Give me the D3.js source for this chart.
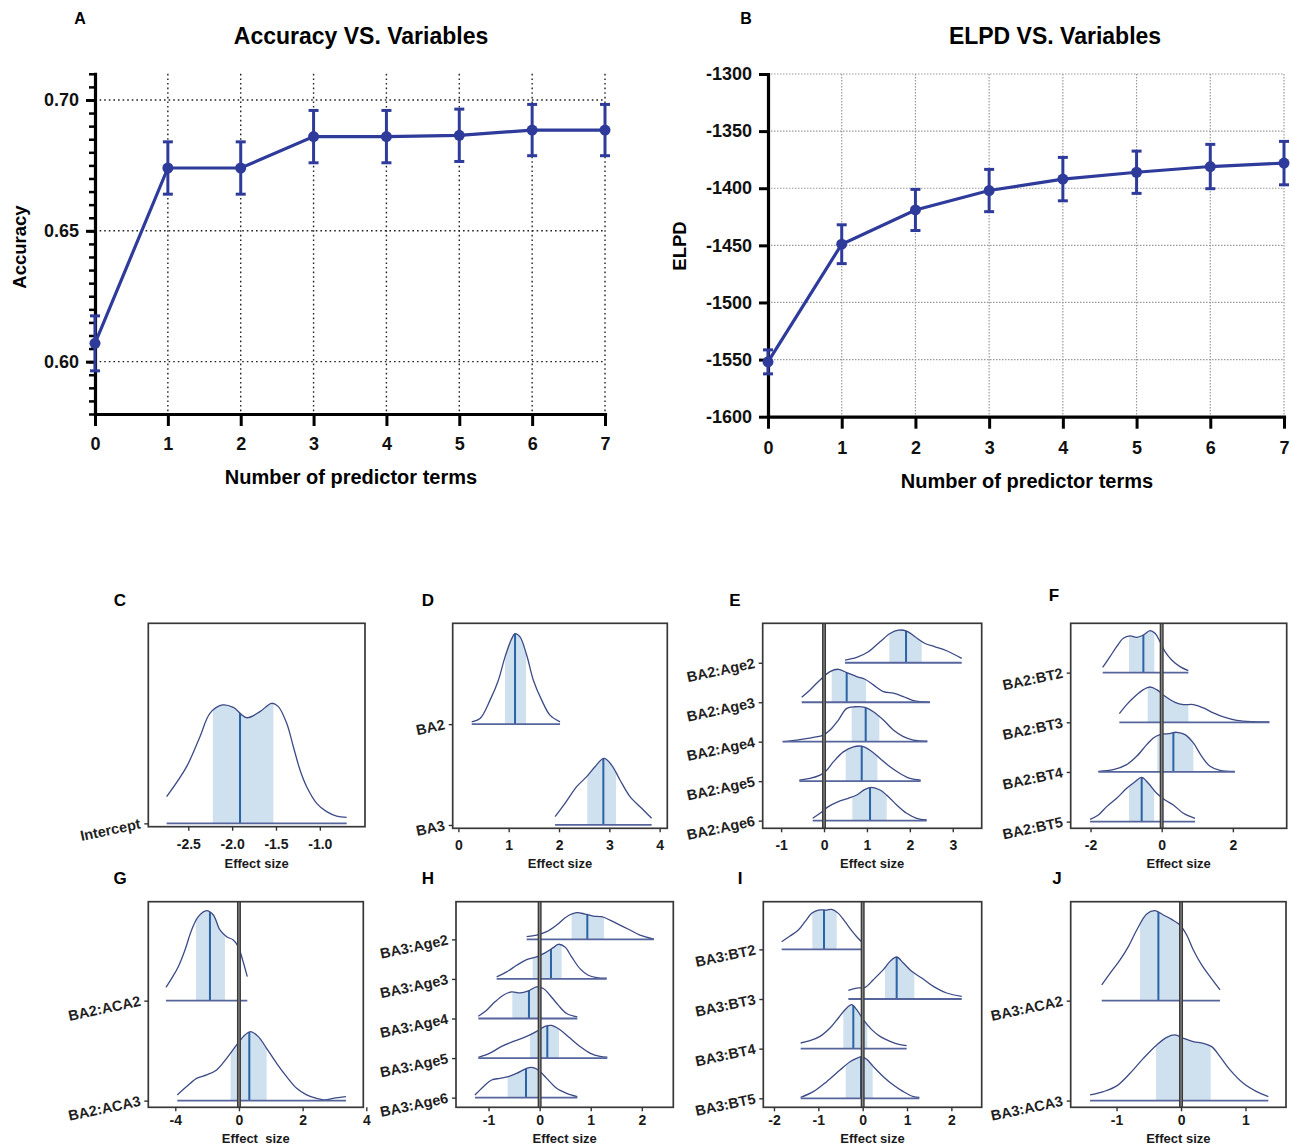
<!DOCTYPE html>
<html>
<head>
<meta charset="utf-8">
<script src="https://cdn.jsdelivr.net/npm/d3@7"></script>
<style>
  body { margin: 0; background: #fff; }
  text { font-family: "Liberation Sans", Arial, sans-serif; }
</style>
</head>
<body>
<script>
// ---------- data: top panels ----------
var nTerms = [0, 1, 2, 3, 4, 5, 6, 7]
var accMean = [0.607, 0.674, 0.674, 0.686, 0.686, 0.6865, 0.6885, 0.6885]
var accErr = [0.0105, 0.010, 0.010, 0.010, 0.010, 0.010, 0.0098, 0.0098]
var accTicks = [0.60, 0.65, 0.70]
var elpdMean = [-1552, -1449, -1419, -1402, -1392, -1386, -1381, -1378]
var elpdErr = [10.5, 17, 18, 18.5, 19, 18.5, 19.4, 19]
var elpdTicks = [-1600, -1550, -1500, -1450, -1400, -1350, -1300]

// ---------- data: posterior areas (x = effect size, h = density height in row units) ----------
var cParams = ["Intercept"]
var cDensity = [
  [[-2.747,0.223],[-2.519,0.475],[-2.367,0.726],[-2.253,0.922],[-2.112,0.992],[-1.987,0.972],[-1.835,0.885],[-1.683,0.936],[-1.549,1.006],[-1.473,0.978],[-1.378,0.838],[-1.302,0.642],[-1.226,0.447],[-1.150,0.307],[-1.036,0.168],[-0.922,0.098],[-0.808,0.061],[-0.694,0.050]]
]
var cInterval = [[-2.22, -1.53]]
var cMedian = [-1.91]
var cTicks = [-2.5, -2, -1.5, -1]
var cTickLabels = ["-2.5", "-2.0", "-1.5", "-1.0"]

var dParams = ["BA2", "BA3"]
var dDensity = [
  [[0.265,0.023],[0.430,0.056],[0.629,0.238],[0.795,0.436],[0.927,0.667],[1.060,0.848],[1.126,0.898],[1.225,0.865],[1.358,0.683],[1.490,0.436],[1.656,0.238],[1.821,0.089],[2.020,0.023]],
  [[1.921,0.083],[2.119,0.215],[2.351,0.380],[2.550,0.479],[2.715,0.578],[2.894,0.660],[3.046,0.594],[3.212,0.446],[3.411,0.281],[3.642,0.165],[3.841,0.066]]
]
var dInterval = [[0.927, 1.344], [2.563, 3.132]]
var dMedian = [1.126, 2.881]
var dTicks = [0, 1, 2, 3, 4]
var dTickLabels = ["0", "1", "2", "3", "4"]

var eParams = ["BA2:Age2", "BA2:Age3", "BA2:Age4", "BA2:Age5", "BA2:Age6"]
var eDensity = [
  [[0.489,0.068],[0.761,0.135],[1.033,0.278],[1.305,0.532],[1.538,0.743],[1.732,0.827],[1.926,0.802],[2.120,0.658],[2.353,0.489],[2.586,0.405],[2.858,0.304],[3.208,0.110]],
  [[-0.520,0.127],[-0.326,0.312],[-0.093,0.565],[0.140,0.776],[0.334,0.835],[0.528,0.751],[0.761,0.650],[0.955,0.582],[1.150,0.439],[1.383,0.270],[1.616,0.228],[1.849,0.143],[2.082,0.042],[2.470,0.0]],
  [[-0.963,0.0],[-0.637,0.042],[-0.249,0.110],[-0.016,0.169],[0.140,0.295],[0.334,0.549],[0.528,0.844],[0.722,0.886],[0.955,0.869],[1.150,0.759],[1.383,0.549],[1.616,0.295],[1.849,0.127],[2.082,0.042],[2.408,0.017]],
  [[-0.575,0.025],[-0.326,0.068],[-0.093,0.152],[0.062,0.278],[0.217,0.489],[0.450,0.743],[0.683,0.869],[0.878,0.886],[1.072,0.785],[1.305,0.574],[1.538,0.363],[1.771,0.194],[2.004,0.068],[2.252,0.025]],
  [[-0.264,0.059],[-0.093,0.186],[0.101,0.354],[0.334,0.481],[0.567,0.565],[0.761,0.650],[0.955,0.793],[1.111,0.844],[1.305,0.776],[1.499,0.608],[1.693,0.397],[1.926,0.186],[2.159,0.059],[2.392,0.017]]
]
var eInterval = [[1.522, 2.276], [0.179, 0.979], [0.645, 1.289], [0.505, 1.243], [0.660, 1.460]]
var eMedian = [1.911, 0.528, 0.971, 0.878, 1.072]
var eTicks = [-1, 0, 1, 2, 3]
var eTickLabels = ["-1", "0", "1", "2", "3"]

var fParams = ["BA2:BT2", "BA2:BT3", "BA2:BT4", "BA2:BT5"]
var fDensity = [
  [[-1.658,0.107],[-1.452,0.322],[-1.265,0.523],[-1.077,0.691],[-0.890,0.738],[-0.703,0.711],[-0.515,0.758],[-0.328,0.846],[-0.187,0.792],[-0.047,0.624],[0.094,0.423],[0.281,0.255],[0.515,0.121],[0.749,0.040]],
  [[-1.190,0.174],[-0.984,0.356],[-0.749,0.523],[-0.515,0.658],[-0.328,0.711],[-0.141,0.658],[0.094,0.523],[0.375,0.403],[0.609,0.356],[0.890,0.356],[1.171,0.289],[1.452,0.188],[1.733,0.107],[2.108,0.040],[2.576,0.013],[3.026,0.007]],
  [[-1.780,0.013],[-1.358,0.047],[-0.984,0.148],[-0.703,0.315],[-0.422,0.550],[-0.234,0.685],[-0.047,0.752],[0.187,0.772],[0.422,0.799],[0.656,0.752],[0.890,0.584],[1.124,0.315],[1.358,0.114],[1.639,0.034],[2.061,0.013]],
  [[-2.014,0.047],[-1.780,0.134],[-1.546,0.302],[-1.265,0.470],[-0.984,0.671],[-0.749,0.805],[-0.562,0.893],[-0.375,0.772],[-0.141,0.570],[0.094,0.436],[0.328,0.336],[0.609,0.168],[0.937,0.067]]
]
var fInterval = [[-0.918, -0.206], [-0.393, 0.749], [-0.122, 0.890], [-0.918, -0.215]]
var fMedian = [-0.515, 0.0, 0.328, -0.562]
var fTicks = [-2, 0, 2]
var fTickLabels = ["-2", "0", "2"]

var gParams = ["BA2:ACA2", "BA2:ACA3"]
var gDensity = [
  [[-2.293,0.133],[-2.115,0.223],[-1.906,0.340],[-1.696,0.507],[-1.487,0.707],[-1.277,0.840],[-1.016,0.900],[-0.806,0.857],[-0.597,0.707],[-0.387,0.640],[-0.178,0.607],[-0.021,0.540],[0.115,0.407],[0.262,0.240]],
  [[-1.937,0.057],[-1.644,0.140],[-1.330,0.223],[-1.016,0.257],[-0.702,0.307],[-0.387,0.423],[-0.073,0.557],[0.188,0.657],[0.366,0.690],[0.607,0.640],[0.869,0.523],[1.183,0.373],[1.497,0.240],[1.812,0.123],[2.126,0.057],[2.440,0.023],[2.702,0.007],[2.963,0.023],[3.361,0.040]]
]
var gInterval = [[-1.351, -0.440], [-0.262, 0.869]]
var gMedian = [-0.911, 0.325]
var gTicks = [-2, 0, 2, 4]
var gTickLabels = ["-4", "0", "2", "4"]

var hParams = ["BA3:Age2", "BA3:Age3", "BA3:Age4", "BA3:Age5", "BA3:Age6"]
var hDensity = [
  [[-0.254,0.067],[-0.059,0.109],[0.137,0.194],[0.333,0.362],[0.528,0.573],[0.724,0.674],[0.887,0.640],[1.050,0.589],[1.213,0.573],[1.376,0.488],[1.572,0.362],[1.768,0.236],[1.963,0.109],[2.237,0.008]],
  [[-0.841,0.051],[-0.646,0.177],[-0.450,0.345],[-0.254,0.488],[-0.059,0.556],[0.104,0.657],[0.267,0.792],[0.365,0.876],[0.496,0.808],[0.626,0.556],[0.789,0.261],[0.952,0.093],[1.115,0.034],[1.311,0.017]],
  [[-1.200,0.059],[-1.037,0.211],[-0.874,0.421],[-0.711,0.589],[-0.548,0.674],[-0.385,0.648],[-0.222,0.699],[-0.059,0.800],[0.072,0.758],[0.202,0.589],[0.365,0.337],[0.528,0.126],[0.737,0.042]],
  [[-1.200,0.017],[-0.972,0.126],[-0.744,0.295],[-0.515,0.421],[-0.254,0.547],[-0.059,0.674],[0.104,0.800],[0.235,0.825],[0.398,0.716],[0.594,0.505],[0.789,0.295],[0.985,0.126],[1.181,0.042],[1.324,0.025]],
  [[-1.266,0.067],[-1.102,0.278],[-0.939,0.446],[-0.776,0.488],[-0.613,0.531],[-0.450,0.615],[-0.254,0.741],[-0.157,0.766],[-0.026,0.699],[0.137,0.488],[0.333,0.236],[0.528,0.109],[0.737,0.025]]
]
var hInterval = [[0.626, 1.259], [-0.137, 0.431], [-0.535, 0.039], [-0.189, 0.378], [-0.626, 0.013]]
var hMedian = [0.933, 0.222, -0.209, 0.150, -0.267]
var hTicks = [-1, 0, 1, 2]
var hTickLabels = ["-1", "0", "1", "2"]

var iParams = ["BA3:BT2", "BA3:BT3", "BA3:BT4", "BA3:BT5"]
var iDensity = [
  [[-1.827,0.154],[-1.639,0.268],[-1.451,0.389],[-1.301,0.557],[-1.150,0.725],[-1.000,0.792],[-0.812,0.792],[-0.699,0.805],[-0.549,0.725],[-0.398,0.557],[-0.248,0.376],[-0.135,0.255],[-0.023,0.154]],
  [[-0.323,0.174],[-0.135,0.221],[0.053,0.235],[0.241,0.389],[0.466,0.591],[0.617,0.758],[0.767,0.846],[0.917,0.725],[1.105,0.557],[1.331,0.423],[1.594,0.255],[1.895,0.121],[2.233,0.054]],
  [[-1.398,0.114],[-1.188,0.161],[-0.962,0.248],[-0.737,0.416],[-0.549,0.617],[-0.398,0.785],[-0.248,0.886],[-0.135,0.785],[0.015,0.584],[0.203,0.383],[0.391,0.248],[0.617,0.148],[0.842,0.081],[0.992,0.060]],
  [[-1.398,0.020],[-1.113,0.134],[-0.812,0.336],[-0.511,0.570],[-0.286,0.738],[-0.135,0.805],[-0.023,0.839],[0.090,0.785],[0.241,0.638],[0.466,0.436],[0.692,0.268],[0.917,0.134],[1.143,0.034],[1.278,0.020]]
]
var iInterval = [[-1.135, -0.586], [0.504, 1.165], [-0.436, 0.105], [-0.383, 0.226]]
var iMedian = [-0.872, 0.767, -0.211, -0.038]
var iTicks = [-2, -1, 0, 1, 2]
var iTickLabels = ["-2", "-1", "0", "1", "2"]

var jParams = ["BA3:ACA2", "BA3:ACA3"]
var jDensity = [
  [[-1.230,0.157],[-1.101,0.273],[-0.946,0.407],[-0.817,0.540],[-0.687,0.707],[-0.532,0.867],[-0.403,0.900],[-0.274,0.857],[-0.145,0.813],[-0.016,0.757],[0.088,0.657],[0.191,0.507],[0.320,0.357],[0.450,0.240],[0.605,0.107]],
  [[-1.411,0.057],[-1.204,0.090],[-0.997,0.147],[-0.791,0.273],[-0.584,0.423],[-0.377,0.557],[-0.222,0.633],[-0.093,0.657],[0.036,0.623],[0.191,0.590],[0.346,0.573],[0.475,0.540],[0.605,0.440],[0.760,0.307],[0.966,0.173],[1.173,0.090],[1.354,0.040]]
]
var jInterval = [[-0.636, -0.026], [-0.388, 0.460]]
var jMedian = [-0.351, -0.005]
var jTicks = [-1, 0, 1]
var jTickLabels = ["-1", "0", "1"]

// ---------- page ----------
var W = 1290, H = 1147
var svg = d3.select("body").append("svg")
  .attr("width", W)
  .attr("height", H)
svg.append("rect").attr("width", W).attr("height", H).attr("fill", "#fff")

var lineBlue = "#2e3b9b"

// top panels: mean +- error line charts
function drawTop(cfg) {
  var g = svg.append("g")
  var x = d3.scaleLinear().domain([0, 7]).range([cfg.x0, cfg.x1])
  var y = d3.scaleLinear().domain(cfg.yDomain).range([cfg.y0, cfg.y1])

  // dotted grid
  g.append("g").selectAll("line")
    .data(nTerms.filter(function (d) { return d > 0 }))
    .enter().append("line")
    .attr("x1", function (d) { return x(d) }).attr("x2", function (d) { return x(d) })
    .attr("y1", cfg.y1).attr("y2", cfg.y0)
    .attr("stroke", cfg.gridColor).attr("stroke-width", cfg.gridWidth)
    .attr("stroke-dasharray", cfg.dash)
  g.append("g").selectAll("line")
    .data(cfg.yTicks.filter(function (d) { return d > cfg.yDomain[0] }))
    .enter().append("line")
    .attr("x1", cfg.x0).attr("x2", cfg.x1)
    .attr("y1", function (d) { return y(d) }).attr("y2", function (d) { return y(d) })
    .attr("stroke", cfg.gridColor).attr("stroke-width", cfg.gridWidth)
    .attr("stroke-dasharray", cfg.dash)

  // minor ticks (panel A only)
  if (cfg.minorTicks) {
    g.append("g")
      .attr("transform", "translate(" + cfg.x0 + ",0)")
      .call(d3.axisLeft(y).tickValues(cfg.minorTicks).tickSize(6).tickSizeOuter(0).tickFormat(""))
      .call(function (a) { a.select(".domain").remove() })
      .selectAll("line").attr("stroke", "#000").attr("stroke-width", 2.5)
  }

  var yAxis = g.append("g")
    .attr("transform", "translate(" + cfg.x0 + ",0)")
    .call(d3.axisLeft(y).tickValues(cfg.yTicks).tickSize(9).tickSizeOuter(0).tickPadding(7).tickFormat(cfg.fmt))
  var xAxis = g.append("g")
    .attr("transform", "translate(0," + cfg.y0 + ")")
    .call(d3.axisBottom(x).tickValues(nTerms).tickSize(12).tickSizeOuter(0).tickPadding(cfg.xPad)
      .tickFormat(function (d) { return String(d) }))
  ;[yAxis, xAxis].forEach(function (a) {
    a.select(".domain").attr("stroke", "#000").attr("stroke-width", 3.2).attr("stroke-linecap", "square")
    a.selectAll(".tick line").attr("stroke", "#000").attr("stroke-width", 3)
    a.selectAll("text").attr("fill", "#111").style("font-size", "18px").style("font-weight", "bold")
      .style("font-family", "'Liberation Sans', Arial, sans-serif")
  })

  // line
  var line = d3.line()
    .x(function (d, i) { return x(nTerms[i]) })
    .y(function (d) { return y(d) })
  g.append("path").datum(cfg.mean).attr("d", line)
    .attr("fill", "none").attr("stroke", lineBlue).attr("stroke-width", 3.2)

  // error bars
  var eb = g.append("g").attr("stroke", lineBlue).attr("stroke-width", 3)
  cfg.mean.forEach(function (m, i) {
    var xi = x(nTerms[i]), lo = y(m - cfg.err[i]), hi = y(m + cfg.err[i])
    eb.append("line").attr("x1", xi).attr("x2", xi).attr("y1", lo).attr("y2", hi)
    eb.append("line").attr("x1", xi - 5).attr("x2", xi + 5).attr("y1", lo).attr("y2", lo)
    eb.append("line").attr("x1", xi - 5).attr("x2", xi + 5).attr("y1", hi).attr("y2", hi)
  })
  g.append("g").selectAll("circle").data(cfg.mean).enter().append("circle")
    .attr("cx", function (d, i) { return x(nTerms[i]) })
    .attr("cy", function (d) { return y(d) })
    .attr("r", 5.5).attr("fill", lineBlue)

  // labels
  g.append("text").attr("x", cfg.letterX).attr("y", 24).text(cfg.letter)
    .style("font-size", "16px").style("font-weight", "bold").attr("text-anchor", "middle")
  g.append("text").attr("x", cfg.titleX).attr("y", 44).text(cfg.title)
    .style("font-size", "23px").style("font-weight", "bold").attr("text-anchor", "middle")
  g.append("text").attr("x", cfg.xTitleX).attr("y", cfg.xTitleY).text("Number of predictor terms")
    .style("font-size", "20px").style("font-weight", "bold").attr("text-anchor", "middle")
  g.append("text").attr("transform", "translate(" + cfg.yTitleX + "," + cfg.yTitleY + ") rotate(-90)")
    .text(cfg.yTitle).style("font-size", "18.5px").style("font-weight", "bold").attr("text-anchor", "middle")
}

drawTop({
  letter: "A", letterX: 80, title: "Accuracy VS. Variables", titleX: 361,
  x0: 95, x1: 605, y0: 414, y1: 73.8, yDomain: [0.58, 0.71],
  yTicks: accTicks, minorTicks: d3.range(116, 143).map(function (k) { return k / 200 }),
  fmt: d3.format(".2f"), mean: accMean, err: accErr,
  gridColor: "#222", gridWidth: 1.4, dash: "1.6,3", xPad: 11,
  xTitleX: 351, xTitleY: 484, yTitle: "Accuracy", yTitleX: 26, yTitleY: 247
})
drawTop({
  letter: "B", letterX: 746, title: "ELPD VS. Variables", titleX: 1055,
  x0: 768, x1: 1284, y0: 416.7, y1: 74, yDomain: [-1600, -1300],
  yTicks: elpdTicks, minorTicks: null,
  fmt: function (d) { return String(d) }, mean: elpdMean, err: elpdErr,
  gridColor: "#9a9a9a", gridWidth: 1.2, dash: "1.5,1.5", xPad: 13,
  xTitleX: 1027, xTitleY: 488, yTitle: "ELPD", yTitleX: 686, yTitleY: 246
})

// bottom panels: posterior area plots
var ridgePanels = [
  { letter: "C", lx: 120, ly: 606, box: [148.3, 365, 623.3, 826.7], xDomain: [-2.956, -0.485], yDomain: [-0.028, 1.676], zero: false, tickDy: 5, titleDy: 41,
    params: cParams, density: cDensity, interval: cInterval, median: cMedian, ticks: cTicks, tickLabels: cTickLabels, xTitle: "Effect size" },
  { letter: "D", lx: 428, ly: 606, box: [452.7, 667.3, 623.3, 828.3], xDomain: [-0.113, 4.152], yDomain: [-0.033, 2.0], zero: false, tickDy: 5, titleDy: 40,
    params: dParams, density: dDensity, interval: dInterval, median: dMedian, ticks: dTicks, tickLabels: dTickLabels, xTitle: "Effect size" },
  { letter: "E", lx: 735, ly: 606, box: [762.7, 981.7, 623.3, 828.3], xDomain: [-1.429, 3.674], yDomain: [-0.194, 5.0], zero: true, tickDy: 5, titleDy: 40,
    params: eParams, density: eDensity, interval: eInterval, median: eMedian, ticks: eTicks, tickLabels: eTickLabels, xTitle: "Effect size" },
  { letter: "F", lx: 1054, ly: 601, box: [1070.7, 1286.7, 623.3, 828.3], xDomain: [-2.557, 3.513], yDomain: [-0.134, 3.993], zero: true, tickDy: 5, titleDy: 40,
    params: fParams, density: fDensity, interval: fInterval, median: fMedian, ticks: fTicks, tickLabels: fTickLabels, xTitle: "Effect size" },
  { letter: "G", lx: 120, ly: 884, box: [148.3, 363.3, 901.7, 1107.3], xDomain: [-2.848, 3.906], yDomain: [-0.067, 1.99], zero: true, tickDy: 1, titleDy: 36,
    params: gParams, density: gDensity, interval: gInterval, median: gMedian, ticks: gTicks, tickLabels: gTickLabels, xTitle: "Effect  size" },
  { letter: "H", lx: 428, ly: 884, box: [456, 673.3, 901.7, 1107.3], xDomain: [-1.637, 2.616], yDomain: [-0.244, 4.952], zero: true, tickDy: 1, titleDy: 36,
    params: hParams, density: hDensity, interval: hInterval, median: hMedian, ticks: hTicks, tickLabels: hTickLabels, xTitle: "Effect size" },
  { letter: "I", lx: 740, ly: 884, box: [763.3, 981.7, 901.7, 1107.3], xDomain: [-2.241, 2.684], yDomain: [-0.181, 3.96], zero: true, tickDy: 1, titleDy: 36,
    params: iParams, density: iDensity, interval: iInterval, median: iMedian, ticks: iTicks, tickLabels: iTickLabels, xTitle: "Effect size" },
  { letter: "J", lx: 1057, ly: 884, box: [1070.7, 1286, 901.7, 1107.3], xDomain: [-1.711, 1.628], yDomain: [-0.067, 1.99], zero: true, tickDy: 1, titleDy: 36,
    params: jParams, density: jDensity, interval: jInterval, median: jMedian, ticks: jTicks, tickLabels: jTickLabels, xTitle: "Effect size" }
]

function drawRidge(p, k) {
  var left = p.box[0], right = p.box[1], top = p.box[2], bottom = p.box[3]
  var g = svg.append("g")
  var x = d3.scaleLinear().domain(p.xDomain).range([left, right])
  var y = d3.scaleLinear().domain(p.yDomain).range([bottom, top])
  var n = p.params.length

  var boxClip = "box-" + k
  g.append("clipPath").attr("id", boxClip).append("rect")
    .attr("x", left).attr("y", top).attr("width", right - left).attr("height", bottom - top)
  var plot = g.append("g").attr("clip-path", "url(#" + boxClip + ")")

  p.params.forEach(function (name, i) {
    var base = n - 1 - i
    var pts = p.density[i]
    var area = d3.area().curve(d3.curveCatmullRom)
      .x(function (d) { return x(d[0]) })
      .y0(y(base))
      .y1(function (d) { return y(base + d[1]) })
    var outline = d3.line().curve(d3.curveCatmullRom)
      .x(function (d) { return x(d[0]) })
      .y(function (d) { return y(base + d[1]) })
    var id = "dens-" + k + "-" + i
    g.append("clipPath").attr("id", id).append("path").attr("d", area(pts))

    plot.append("rect")
      .attr("x", x(p.interval[i][0])).attr("width", x(p.interval[i][1]) - x(p.interval[i][0]))
      .attr("y", top).attr("height", y(base) - top)
      .attr("fill", "#cfe0ee").attr("clip-path", "url(#" + id + ")")
    plot.append("line")
      .attr("x1", x(p.median[i])).attr("x2", x(p.median[i]))
      .attr("y1", y(base)).attr("y2", top)
      .attr("stroke", "#2a63a6").attr("stroke-width", 2).attr("clip-path", "url(#" + id + ")")
    plot.append("path").attr("d", outline(pts))
      .attr("fill", "none").attr("stroke", "#3c4a86").attr("stroke-width", 1.3)
    plot.append("line")
      .attr("x1", x(pts[0][0])).attr("x2", x(pts[pts.length - 1][0]))
      .attr("y1", y(base)).attr("y2", y(base))
      .attr("stroke", "#56659c").attr("stroke-width", 1.8)
  })

  if (p.zero) {
    plot.append("line").attr("x1", x(0)).attr("x2", x(0)).attr("y1", top).attr("y2", bottom)
      .attr("stroke", "#3a3a3a").attr("stroke-width", 4)
    plot.append("line").attr("x1", x(0)).attr("x2", x(0)).attr("y1", top).attr("y2", bottom)
      .attr("stroke", "#8a8a8a").attr("stroke-width", 1.2)
  }

  g.append("rect").attr("x", left).attr("y", top).attr("width", right - left).attr("height", bottom - top)
    .attr("fill", "none").attr("stroke", "#383838").attr("stroke-width", 1.7)

  // axes
  var xa = g.append("g").attr("transform", "translate(0," + bottom + ")")
    .call(d3.axisBottom(x).tickValues(p.ticks).tickSize(4).tickSizeOuter(0).tickPadding(3 + p.tickDy)
      .tickFormat(function (d, i) { return p.tickLabels[i] }))
  var rows = p.params.map(function (d, i) { return n - 1 - i })
  var ya = g.append("g").attr("transform", "translate(" + left + ",0)")
    .call(d3.axisLeft(y).tickValues(rows).tickSize(4).tickSizeOuter(0).tickFormat(""))
  ;[xa, ya].forEach(function (a) {
    a.select(".domain").remove()
    a.selectAll(".tick line").attr("stroke", "#333").attr("stroke-width", 1.4)
  })
  xa.selectAll("text").attr("fill", "#1a1a1a").style("font-size", "14px").style("font-weight", "bold")
    .style("font-family", "'Liberation Sans', Arial, sans-serif")

  // rotated parameter names
  g.append("g").selectAll("text").data(p.params).enter().append("text")
    .attr("transform", function (d, i) {
      return "translate(" + (left - 7) + "," + (y(n - 1 - i) + 5) + ") rotate(-12)"
    })
    .attr("text-anchor", "end")
    .style("font-size", "14.5px").style("font-weight", "bold").attr("fill", "#1f1f1f")
    .text(function (d) { return d })

  g.append("text").attr("x", (left + right) / 2).attr("y", bottom + p.titleDy)
    .attr("text-anchor", "middle").style("white-space", "pre")
    .style("font-size", "13px").style("font-weight", "bold").attr("fill", "#1a1a1a")
    .text(p.xTitle)
  g.append("text").attr("x", p.lx).attr("y", p.ly).attr("text-anchor", "middle")
    .style("font-size", "17px").style("font-weight", "bold").text(p.letter)
}

ridgePanels.forEach(drawRidge)
</script>
</body>
</html>
